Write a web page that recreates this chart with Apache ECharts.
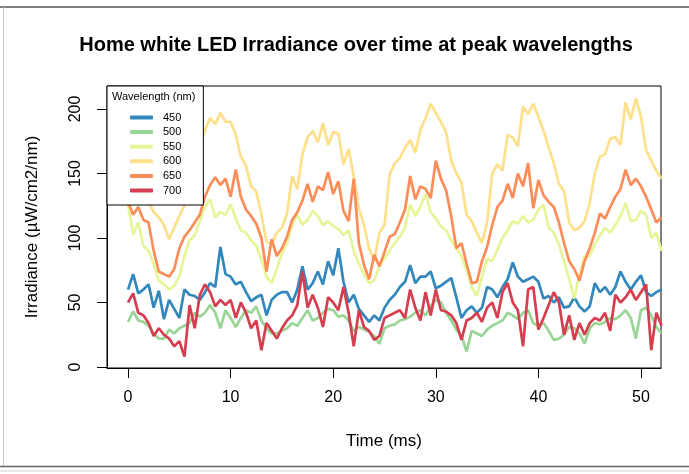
<!DOCTYPE html>
<html>
<head>
<meta charset="utf-8">
<script src="https://cdn.jsdelivr.net/npm/echarts@6/dist/echarts.min.js"></script>
<style>
  html, body { margin: 0; padding: 0; background: #fff; }
  #chart { width: 689px; height: 474px; }
</style>
</head>
<body>
<div id="chart"></div>
<script>
// time axis (ms), one sample every 0.5 ms
const time = [
  0, 0.5, 1, 1.5, 2, 2.5, 3, 3.5, 4, 4.5,
  5, 5.5, 6, 6.5, 7, 7.5, 8, 8.5, 9, 9.5,
  10, 10.5, 11, 11.5, 12, 12.5, 13, 13.5, 14, 14.5,
  15, 15.5, 16, 16.5, 17, 17.5, 18, 18.5, 19, 19.5,
  20, 20.5, 21, 21.5, 22, 22.5, 23, 23.5, 24, 24.5,
  25, 25.5, 26, 26.5, 27, 27.5, 28, 28.5, 29, 29.5,
  30, 30.5, 31, 31.5, 32, 32.5, 33, 33.5, 34, 34.5,
  35, 35.5, 36, 36.5, 37, 37.5, 38, 38.5, 39, 39.5,
  40, 40.5, 41, 41.5, 42, 42.5, 43, 43.5, 44, 44.5,
  45, 45.5, 46, 46.5, 47, 47.5, 48, 48.5, 49, 49.5,
  50, 50.5, 51, 51.5, 52
]

// irradiance per wavelength (uW/cm2/nm)
const w450 = [
  60, 72, 57, 60, 64, 46, 59, 37, 52, 45,
  38, 60, 56, 55, 52, 58, 65, 62, 93, 72,
  70, 64, 66, 58, 51, 54, 56, 40, 52, 56,
  58, 58, 50, 60, 78, 60, 65, 74, 64, 82,
  71, 92, 66, 50, 56, 45, 40, 35, 40, 36,
  46, 52, 56, 62, 66, 79, 65, 70, 70, 74,
  61, 63, 66, 69, 54, 38, 44, 47, 42, 46,
  62, 60, 54, 62, 68, 81, 70, 66, 68, 70,
  66, 53, 55, 50, 54, 46, 47, 54, 47, 43,
  47, 65, 58, 62, 56, 62, 74, 66, 60, 66,
  71, 58, 55, 58, 60
]
const w500 = [
  35, 43, 36, 35, 32, 26, 22, 22, 29, 26,
  30, 32, 34, 42, 39, 42, 48, 42, 30, 44,
  38, 31, 38, 44, 42, 47, 36, 30, 26, 26,
  28, 30, 34, 32, 38, 44, 36, 38, 42, 45,
  44, 39, 40, 36, 28, 31, 29, 27, 24, 18,
  30, 32, 33, 36, 37, 39, 42, 44, 40, 47,
  52, 50, 42, 36, 29, 24, 12, 28, 26, 24,
  29, 32, 34, 36, 42, 40, 37, 42, 44, 34,
  32, 34, 28, 21, 22, 25, 31, 30, 26, 18,
  30, 34, 33, 35, 38, 37, 40, 44, 38, 22,
  44, 46, 40, 31, 26
]
const w550 = [
  126, 103, 112, 94, 90, 80, 67, 64, 60, 63,
  70, 86, 98, 102, 113, 124, 130, 116, 120, 118,
  126, 115, 106, 104, 98, 94, 83, 70, 65, 76,
  88, 96, 110, 118, 110, 114, 121, 117, 110, 113,
  109, 107, 102, 106, 90, 80, 72, 65, 67, 78,
  84, 90, 96, 101, 108, 126, 117, 124, 134, 120,
  115, 109, 106, 98, 92, 86, 75, 62, 55, 70,
  84, 82, 91, 100, 106, 113, 111, 117, 112, 114,
  122, 126, 108, 104, 95, 82, 68, 53, 72, 86,
  86, 95, 102, 108, 104, 110, 117, 127, 113, 114,
  121, 118, 100, 104, 90
]
const w600 = [
  142, 138, 146, 134, 128, 120, 116, 110, 99, 108,
  117, 125, 138, 150, 170, 184, 193, 188, 197, 190,
  190, 180, 163, 156, 140, 136, 118, 97, 95, 104,
  108, 119, 148, 138, 165, 178, 183, 174, 189, 172,
  182, 181, 157, 169, 148, 123, 110, 92, 82, 104,
  110, 149, 158, 162, 170, 176, 166, 184, 193, 204,
  197, 190, 182, 160, 150, 143, 118, 113, 104, 96,
  112, 150, 157, 152, 180, 178, 171, 202, 196, 204,
  194, 183, 170, 158, 142, 136, 112, 106, 108, 113,
  127, 150, 163, 165, 177, 178, 172, 205, 192, 208,
  194, 168, 160, 152, 146
]
const w650 = [
  128, 118, 124, 114, 112, 90, 74, 72, 70, 76,
  92, 101, 106, 112, 118, 132, 141, 147, 141, 146,
  132, 153, 132, 122, 117, 111, 100, 74, 99, 86,
  92, 101, 114, 120, 129, 142, 128, 140, 137, 151,
  134, 144, 121, 113, 146, 96, 79, 68, 87, 78,
  89, 101, 103, 112, 122, 148, 130, 140, 138, 131,
  160, 146, 137, 117, 92, 96, 80, 65, 66, 82,
  93, 110, 124, 129, 142, 131, 150, 140, 158, 123,
  145, 133, 128, 124, 112, 96, 82, 76, 67, 82,
  92, 104, 119, 115, 124, 132, 138, 153, 141, 146,
  140, 132, 122, 112, 116
]
const w700 = [
  50, 57, 42, 40, 34, 24, 30, 25, 22, 16,
  20, 8, 48, 30, 56, 64, 58, 47, 52, 48,
  52, 38, 50, 42, 30, 36, 13, 34, 28, 22,
  30, 36, 40, 48, 74, 46, 56, 46, 31, 54,
  50, 44, 62, 42, 16, 44, 31, 28, 21, 24,
  38, 40, 42, 44, 38, 60, 46, 36, 58, 40,
  60, 44, 43, 40, 34, 21, 36, 38, 42, 35,
  46, 50, 38, 58, 65, 50, 44, 16, 60, 62,
  29, 38, 48, 58, 50, 25, 40, 21, 34, 25,
  34, 38, 36, 42, 28, 56, 50, 54, 60, 52,
  58, 64, 13, 42, 32
]

const wavelengths = ['450', '500', '550', '600', '650', '700']
const values = [w450, w500, w550, w600, w650, w700]
const colors = ['#3288BD', '#99D594', '#E6F598', '#FEE08B', '#FC8D59', '#D53E4F']

const xTicks = [0, 10, 20, 30, 40, 50]
const yTicks = [0, 50, 100, 150, 200]

const FONT = '"Liberation Sans", Arial, sans-serif'

const chart = echarts.init(document.getElementById('chart'), null, { renderer: 'canvas' })

const series = wavelengths.map((name, k) => ({
  name: name,
  type: 'line',
  symbol: 'none',
  clip: true,
  data: time.map((t, i) => [t, values[k][i]]),
  lineStyle: { width: 2.7, color: colors[k] },
  itemStyle: { color: colors[k] },
  emphasis: { disabled: true }
}))

chart.setOption({
  animation: false,
  textStyle: { fontFamily: FONT },
  title: [{
    text: 'Wavelength (nm)',
    left: 112,
    top: 91,
    padding: 0,
    textStyle: { fontSize: 11, fontWeight: 'normal', color: '#000', fontFamily: FONT }
  }],
  graphic: [
    // screenshot frame
    { type: 'line', shape: { x1: 0, y1: 7, x2: 689, y2: 7 }, style: { stroke: '#555', lineWidth: 1.5 } },
    { type: 'line', shape: { x1: 3.5, y1: 7, x2: 3.5, y2: 467 }, style: { stroke: '#c8c8c8', lineWidth: 1 } },
    { type: 'line', shape: { x1: 0, y1: 466.5, x2: 689, y2: 466.5 }, style: { stroke: '#666', lineWidth: 1.5 } },
    { type: 'line', shape: { x1: 0, y1: 471, x2: 689, y2: 471 }, style: { stroke: '#d0d0d0', lineWidth: 1 } },
    {
      type: 'text',
      x: 356,
      y: 45,
      style: {
        text: 'Home white LED Irradiance over time at peak wavelengths',
        font: 'bold 20px ' + FONT,
        fill: '#000',
        textAlign: 'center',
        textVerticalAlign: 'middle',
        align: 'center',
        verticalAlign: 'middle'
      }
    }
  ],
  legend: {
    data: wavelengths,
    orient: 'vertical',
    left: 107,
    top: 86,
    padding: [26, 22, 9, 23],
    icon: 'roundRect',
    itemWidth: 23,
    itemHeight: 4,
    itemGap: 3.6,
    backgroundColor: '#fff',
    borderColor: '#000',
    borderWidth: 1,
    borderRadius: 0,
    selectedMode: false,
    textStyle: { fontSize: 11, color: '#000', padding: [0, 0, 0, 5], fontFamily: FONT }
  },
  grid: {
    left: 107,
    right: 28,
    top: 86,
    bottom: 106,
    show: true,
    borderColor: '#000',
    borderWidth: 1,
    backgroundColor: 'transparent'
  },
  xAxis: {
    type: 'value',
    min: -2.05,
    max: 51.95,
    name: 'Time (ms)',
    nameLocation: 'middle',
    nameGap: 65,
    nameTextStyle: { fontSize: 17, color: '#000', fontFamily: FONT },
    axisLine: { show: true, onZero: false, lineStyle: { color: '#000', width: 1 } },
    axisTick: { show: true, inside: false, length: 10, customValues: xTicks, lineStyle: { color: '#000' } },
    axisLabel: { customValues: xTicks, fontSize: 16, color: '#000', margin: 22, fontFamily: FONT },
    splitLine: { show: false }
  },
  yAxis: {
    type: 'value',
    min: -0.8,
    max: 217.8,
    name: 'Irradiance (µW/cm2/nm)',
    nameLocation: 'middle',
    nameGap: 66,
    nameRotate: 90,
    nameTextStyle: { fontSize: 17, color: '#000', fontFamily: FONT },
    axisLine: { show: true, onZero: false, lineStyle: { color: '#000', width: 1 } },
    axisTick: { show: true, inside: false, length: 10, customValues: yTicks, lineStyle: { color: '#000' } },
    axisLabel: { customValues: yTicks, rotate: 90, fontSize: 16, color: '#000', margin: 23, fontFamily: FONT },
    splitLine: { show: false }
  },
  series: series
})
</script>
</body>
</html>
